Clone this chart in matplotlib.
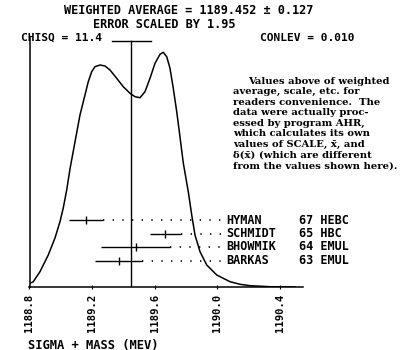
# ideogram of sigma+ mass measurements
import numpy as np
import matplotlib.pyplot as plt

# data ---------------------------------------------
experiments = ['HYMAN', 'SCHMIDT', 'BHOWMIK', 'BARKAS']
years = ['67', '65', '64', '63']
techniques = ['HEBC', 'HBC', 'EMUL', 'EMUL']
values = [1189.16, 1189.67, 1189.48, 1189.37]
errors = [0.11, 0.10, 0.22, 0.15]

w_avg = 1189.452
w_err = 0.127
scale = 1.95
chisq = 11.4
conlev = 0.010

# ideogram curve (arbitrary units)
ideo_x = [1188.803, 1188.824, 1188.867, 1188.920, 1188.963, 1188.995, 1189.016,
          1189.038, 1189.059, 1189.091, 1189.123, 1189.155, 1189.176, 1189.198,
          1189.219, 1189.251, 1189.283, 1189.315, 1189.358, 1189.400, 1189.443,
          1189.475, 1189.507, 1189.539, 1189.571, 1189.603, 1189.635, 1189.656,
          1189.678, 1189.699, 1189.720, 1189.742, 1189.763, 1189.784, 1189.816,
          1189.838, 1189.859, 1189.891, 1189.934, 1189.998, 1190.083, 1190.147,
          1190.211, 1190.339, 1190.499]
ideo_y = [3.7, 5.3, 15.3, 32, 49, 65.3, 79, 97, 118, 145, 172, 192, 205.3,
          215.3, 220.3, 222, 221, 217, 208.7, 200.3, 193.7, 190.3, 189.3, 195.3,
          208.7, 223.7, 232.7, 234.7, 230.3, 218.7, 198.7, 175.3, 150, 124, 95.3,
          72, 52, 35.3, 22, 12, 5.3, 2.7, 1.3, 0.3, 0]

tick_vals = [1188.8, 1189.2, 1189.6, 1190.0, 1190.4]

note = ["Values above of weighted",
        "average, scale, etc. for",
        "readers convenience.  The",
        "data were actually proc-",
        "essed by program AHR,",
        "which calculates its own",
        "values of SCALE, x\u0304, and",
        "\u03b4(x\u0304) (which are different",
        "from the values shown here)."]

# figure --------------------------------------------
W, H = 409, 350
fig = plt.figure(figsize=(W/100, H/100), dpi=100)
ax = fig.add_axes([29.5/W, 63/H, 273.5/W, 249/H])
ax.set_xlim(1188.8, 1190.55)
ax.set_ylim(0, 249)

mono = dict(family='DejaVu Sans Mono', fontweight='bold')

ax.plot(ideo_x, ideo_y, color='black', lw=1.1)

# weighted average line with error cap
ax.plot([w_avg, w_avg], [0, 246], color='black', lw=1.0)
ax.plot([w_avg - w_err, w_avg + w_err], [246, 246], color='black', lw=1.0)

# measurements
label_x = 1190.058
n = len(values)
for i in range(n):
    y = 26.5 + 13.5*(n - 1 - i)
    ax.errorbar(values[i], y, xerr=errors[i], fmt='|', color='black',
                markersize=6, lw=1.0, capsize=0)
    ax.plot([values[i] + errors[i], label_x - 0.026], [y, y], color='black',
            lw=1.2, linestyle=(0, (0.8, 5)))
    ax.text(label_x, y, experiments[i], va='center', ha='left', fontsize=8.5, **mono)
    ax.text(1190.525, y, years[i] + ' ' + techniques[i], va='center',
            ha='left', clip_on=False, fontsize=8.5, **mono)

# axes look
for s in ['top', 'right']:
    ax.spines[s].set_visible(False)
ax.spines['left'].set_linewidth(1.1)
ax.spines['bottom'].set_linewidth(1.1)
ax.set_yticks([])
ax.set_xticks(tick_vals)
ax.set_xticklabels(['%.1f' % t for t in tick_vals], rotation=90, fontsize=7.6, **mono)
ax.tick_params(axis='x', length=3, direction='inout', pad=3)

# header text
fig.text(189/W, 1 - 11/H, 'WEIGHTED AVERAGE = %.3f \u00b1 %.3f' % (w_avg, w_err),
         ha='center', va='center', fontsize=8.6, **mono)
fig.text(164/W, 1 - 24/H, 'ERROR SCALED BY %.2f' % scale,
         ha='center', va='center', fontsize=8.6, **mono)
fig.text(21/W, 1 - 38/H, 'CHISQ = %.1f' % chisq, ha='left', va='center',
         fontsize=8.1, **mono)
fig.text(260/W, 1 - 38/H, 'CONLEV = %.3f' % conlev, ha='left', va='center',
         fontsize=8.1, **mono)
fig.text(28/W, 1 - 345/H, 'SIGMA + MASS (MEV)', ha='left', va='center',
         fontsize=8.7, **mono)

# note on the right
for k, line in enumerate(note):
    x0 = 248 if k == 0 else 233
    yy = 81 if k == 0 else 91.7 + 10.57*(k - 1)
    fig.text(x0/W, 1 - yy/H, line, ha='left', va='center', fontsize=7.2,
             fontweight='bold', family='DejaVu Serif')

fig.savefig('out.png', dpi=100)
